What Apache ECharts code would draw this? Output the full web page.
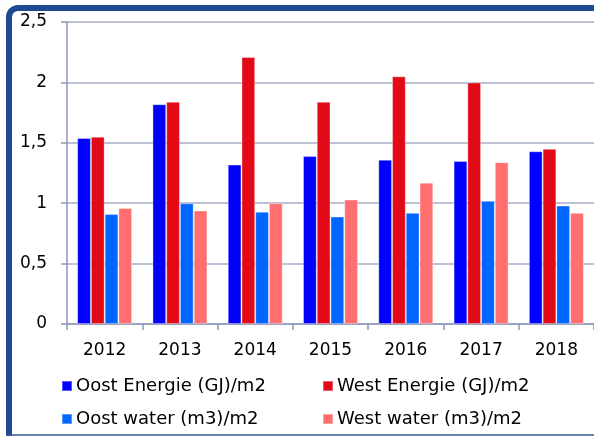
<!DOCTYPE html>
<html>
<head>
<meta charset="utf-8">
<script src="https://cdn.jsdelivr.net/npm/echarts@6/dist/echarts.min.js"></script>
<style>
  html, body { margin: 0; padding: 0; background: #fff; overflow: hidden; }
  #chart_001 { width: 594px; height: 436px; }
</style>
</head>
<body>
<div id="chart_001"></div>
<script>
var years = ['2012', '2013', '2014', '2015', '2016', '2017', '2018'];
var oostEnergie = [1.54, 1.82, 1.32, 1.39, 1.36, 1.35, 1.43];
var westEnergie = [1.55, 1.84, 2.21, 1.84, 2.05, 2.00, 1.45];
var oostWater = [0.91, 1.00, 0.93, 0.89, 0.92, 1.02, 0.98];
var westWater = [0.96, 0.94, 1.00, 1.03, 1.17, 1.34, 0.92];

var names = ['Oost Energie (GJ)/m2', 'West Energie (GJ)/m2', 'Oost water (m3)/m2', 'West water (m3)/m2'];
var colors = ['#0000ff', '#e30a17', '#0066ff', '#ff6f6f'];

var myChart = echarts.init(document.getElementById('chart_001'));
var font = 'DejaVu Sans';

// one legend per item so each can sit where the original has it
function legendAt(name, left, top) {
    return {
        data: [name], left: left, top: top, padding: 0,
        itemWidth: 10, itemHeight: 10, itemGap: 0, icon: 'rect',
        textStyle: { fontFamily: font, fontSize: 18, color: '#000', lineHeight: 20, padding: [0, 0, 0, -1] }
    };
}

function bar(i, data) {
    return {
        name: names[i], type: 'bar', data: data,
        barGap: '0%', barCategoryGap: '27%',
        itemStyle: { color: colors[i], borderColor: 'rgba(255,255,255,0.35)', borderWidth: 1 }
    };
}

var frameColor = '#1f4a92';

var option = {
    animation: false,
    color: colors,
    // dark blue frame: left and top edges with a rounded corner, thin line at the bottom
    graphic: [{
        type: 'polyline', silent: true, z: 100,
        shape: { points: [[9, 440], [9, 17]] },
        style: { fill: null, stroke: frameColor, lineWidth: 6 }
    }, {
        type: 'arc', silent: true, z: 100,
        shape: { cx: 18, cy: 17, r: 9, startAngle: Math.PI, endAngle: Math.PI * 1.5 },
        style: { fill: null, stroke: frameColor, lineWidth: 6 }
    }, {
        type: 'polyline', silent: true, z: 100,
        shape: { points: [[18, 8], [600, 8]] },
        style: { fill: null, stroke: frameColor, lineWidth: 6 }
    }, {
        type: 'line', silent: true, z: 100,
        shape: { x1: 6, y1: 435, x2: 600, y2: 435 },
        style: { stroke: '#3a5a9a', lineWidth: 1.5 }
    }],
    legend: [
        legendAt(names[0], 61, 376),
        legendAt(names[1], 322, 376),
        legendAt(names[2], 61, 409),
        legendAt(names[3], 322, 409)
    ],
    grid: { left: 67, top: 22, width: 529, height: 302 },
    xAxis: {
        type: 'category',
        data: years,
        axisLine: { lineStyle: { color: '#8f97bb', width: 1.5 } },
        axisTick: { show: true, length: 6, lineStyle: { color: '#8f97bb', width: 1.5 } },
        axisLabel: { fontFamily: font, fontSize: 17, color: '#000', margin: 18 }
    },
    yAxis: {
        type: 'value',
        min: 0, max: 2.5, interval: 0.5,
        axisLine: { show: true, lineStyle: { color: '#8f97bb', width: 1.5 } },
        axisTick: { show: true, length: 6, lineStyle: { color: '#8f97bb', width: 1.5 } },
        splitLine: { lineStyle: { color: '#a7adc8', width: 1.5 } },
        axisLabel: {
            fontFamily: font, fontSize: 17, color: '#000', margin: 20,
            formatter: function (v) { return String(v).replace('.', ','); }
        }
    },
    series: [
        bar(0, oostEnergie),
        bar(1, westEnergie),
        bar(2, oostWater),
        bar(3, westWater)
    ]
};

myChart.setOption(option);
</script>
</body>
</html>
